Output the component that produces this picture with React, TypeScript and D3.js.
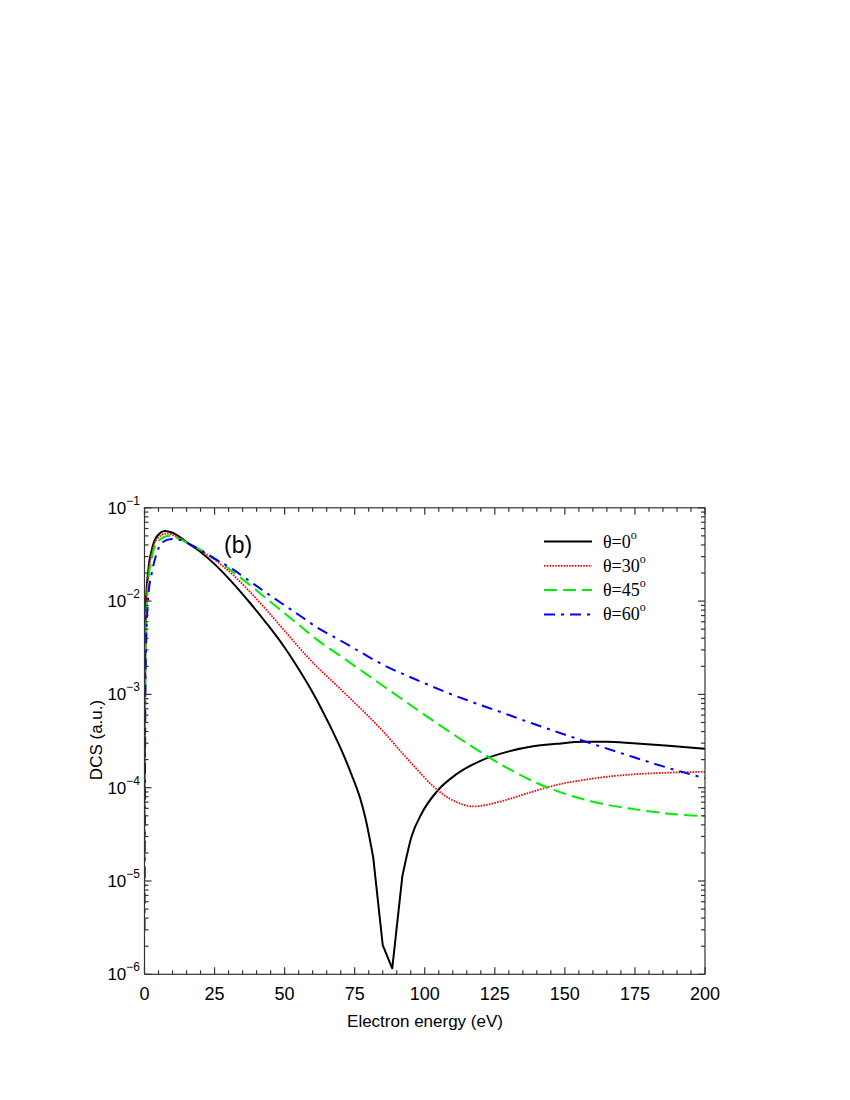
import React, { useRef, useEffect } from 'react';
import * as d3 from 'd3';

// electron energy (eV) and DCS (a.u.)
const energy0 = [0, 0.4, 1.36, 2.6, 4.35, 7.3, 10, 15.6, 19.8, 25, 31.7, 37.6, 43.6, 49.5, 55.5, 60, 65.6, 70.9, 74, 77, 78.7, 81.6, 85, 88.4, 92, 95.3, 98.9, 104.3, 111.4, 119.7, 130, 138.7, 147, 156.6, 165, 174.4, 187, 200];
const dcs0 = [1e-4, 0.008, 0.0216, 0.0354, 0.049, 0.0564, 0.054, 0.0416, 0.034, 0.0249, 0.0154, 0.0096, 0.00575, 0.00334, 0.00177, 0.00105, 5.0e-4, 2.29e-4, 1.35e-4, 7.6e-5, 4.9e-5, 1.8e-5, 2.06e-6, 1.16e-6, 1.12e-5, 3.0e-5, 5.3e-5, 9.1e-5, 1.4e-4, 1.93e-4, 2.45e-4, 2.78e-4, 2.95e-4, 3.1e-4, 3.1e-4, 2.99e-4, 2.82e-4, 2.62e-4];

const energy30 = [0, 0.4, 1.36, 2.6, 4.35, 7.9, 11, 15.6, 23.4, 31.7, 37.6, 43.6, 49.5, 55.5, 61.4, 67.4, 73, 79.3, 85.2, 91.2, 97, 103.1, 109, 113, 117.3, 121, 126.9, 138.7, 147, 156.6, 165, 174.4, 187, 200];
const dcs30 = [3e-5, 0.006, 0.019, 0.033, 0.046, 0.053, 0.05, 0.0416, 0.030, 0.019, 0.0126, 0.0080, 0.0050, 0.0031, 0.0020, 0.00135, 9.3e-4, 6.1e-4, 4.0e-4, 2.5e-4, 1.6e-4, 1.03e-4, 7.6e-5, 6.7e-5, 6.3e-5, 6.45e-5, 7.1e-5, 9.1e-5, 1.07e-4, 1.21e-4, 1.31e-4, 1.39e-4, 1.45e-4, 1.48e-4];

const energy45 = [0, 0.4, 1.36, 2.6, 4.35, 8.5, 12, 15.6, 23.4, 31.7, 37.6, 43.6, 50, 55.5, 61.4, 70, 79.3, 85.2, 91.2, 103.1, 115, 126.9, 138.7, 150.6, 162.5, 174.4, 186.3, 200];
const dcs45 = [1e-5, 0.004, 0.016, 0.029, 0.042, 0.050, 0.047, 0.0416, 0.031, 0.0204, 0.0149, 0.0106, 0.0074, 0.00543, 0.00389, 0.00257, 0.00164, 0.00123, 9.2e-4, 5.2e-4, 3.0e-4, 1.8e-4, 1.17e-4, 8.5e-5, 6.8e-5, 5.9e-5, 5.3e-5, 4.95e-5];

const energy60 = [0, 0.4, 1.36, 2.6, 4.35, 6.1, 9.7, 13, 15.6, 23.6, 31.7, 37.6, 43.6, 55.5, 61.4, 68.6, 77, 85.2, 96, 107.8, 115, 126.9, 138.7, 156.6, 174.4, 186.3, 200];
const dcs60 = [3e-6, 0.002, 0.0112, 0.020, 0.0325, 0.042, 0.0464, 0.045, 0.0416, 0.0301, 0.0217, 0.0163, 0.0122, 0.00697, 0.00527, 0.00398, 0.00285, 0.00207, 0.00148, 0.00105, 8.7e-4, 6.5e-4, 4.85e-4, 3.18e-4, 2.13e-4, 1.65e-4, 1.26e-4];

const seriesNames = ['0', '30', '45', '60'];
const xTickLabels = ['0', '25', '50', '75', '100', '125', '150', '175', '200'];
const yDecades = [-6, -5, -4, -3, -2, -1];

const App = () => {
    const svgRef = useRef(null);

    useEffect(() => {
        const svg = d3.select(svgRef.current);
        svg.selectAll("*").remove();

        const left = 144.5, right = 705, top = 507.8, bottom = 974.3;

        const x = d3.scaleLinear().domain([0, 200]).range([left, right]);
        const y = d3.scaleLog().domain([1e-6, 1e-1]).range([bottom, top]);

        // kinkRange: part of the curve drawn as straight segments (sampled minimum)
        const series = [
            { e: energy0, v: dcs0, color: "#000000", width: 2, dash: null, kinkRange: [81.6, 92] },
            { e: energy30, v: dcs30, color: "#ff0000", width: 1.8, dash: "1.6,1.2", kinkRange: null },
            { e: energy45, v: dcs45, color: "#00ee00", width: 2, dash: "13,6", kinkRange: null },
            { e: energy60, v: dcs60, color: "#0000ff", width: 2, dash: "11,6,3,6", kinkRange: null },
        ];

        svg.append("defs").append("clipPath").attr("id", "plotclip")
            .append("rect")
            .attr("x", left).attr("y", top)
            .attr("width", right - left).attr("height", bottom - top);

        const smooth = d3.line()
            .x(d => x(d[0]))
            .y(d => y(d[1]))
            .curve(d3.curveMonotoneX);
        const straight = d3.line()
            .x(d => x(d[0]))
            .y(d => y(d[1]));

        const lines = svg.append("g").attr("clip-path", "url(#plotclip)");
        series.forEach(s => {
            const pts = s.e.map((e, i) => [e, s.v[i]]);
            let d;
            if (s.kinkRange) {
                const [a, b] = s.kinkRange;
                d = smooth(pts.filter(p => p[0] <= a))
                    + straight(pts.filter(p => p[0] >= a && p[0] <= b)).replace(/^M/, "L")
                    + smooth(pts.filter(p => p[0] >= b)).replace(/^M/, "L");
            } else {
                d = smooth(pts);
            }
            lines.append("path")
                .attr("d", d)
                .attr("fill", "none")
                .attr("stroke", s.color)
                .attr("stroke-width", s.width)
                .attr("stroke-dasharray", s.dash)
                .attr("stroke-linejoin", "round");
        });

        // frame
        const axisColor = "#333";
        svg.append("rect")
            .attr("x", left).attr("y", top)
            .attr("width", right - left).attr("height", bottom - top)
            .attr("fill", "none")
            .attr("stroke", axisColor)
            .attr("stroke-width", 1.2);

        const ticks = svg.append("g").attr("stroke", axisColor).attr("stroke-width", 1.2);

        // x ticks, major every 25, minor every 5, on bottom and top
        d3.range(0, 201, 5).forEach(v => {
            const len = v % 25 === 0 ? 7 : 4;
            ticks.append("line").attr("x1", x(v)).attr("x2", x(v)).attr("y1", bottom).attr("y2", bottom - len);
            ticks.append("line").attr("x1", x(v)).attr("x2", x(v)).attr("y1", top).attr("y2", top + len);
        });

        // y ticks, log decades with minor ticks, on left and right
        yDecades.forEach(p => {
            const steps = p === -1 ? [1] : d3.range(1, 10);
            steps.forEach(m => {
                const v = m * Math.pow(10, p);
                const len = m === 1 ? 7 : 4;
                ticks.append("line").attr("x1", left).attr("x2", left + len).attr("y1", y(v)).attr("y2", y(v));
                ticks.append("line").attr("x1", right).attr("x2", right - len).attr("y1", y(v)).attr("y2", y(v));
            });
        });

        const sans = "'Liberation Sans', Arial, Helvetica, sans-serif";
        const serif = "'Liberation Serif', 'Times New Roman', serif";

        // x tick labels
        svg.append("g")
            .selectAll("text")
            .data(xTickLabels)
            .join("text")
            .attr("x", d => x(+d))
            .attr("y", 1000)
            .attr("text-anchor", "middle")
            .attr("font-family", sans)
            .attr("font-size", 18)
            .attr("fill", "#000")
            .text(d => d);

        // y tick labels 10^n
        yDecades.forEach(p => {
            const t = svg.append("text")
                .attr("x", 140)
                .attr("y", y(Math.pow(10, p)) + 6)
                .attr("text-anchor", "end")
                .attr("font-family", sans)
                .attr("fill", "#000");
            t.append("tspan").attr("font-size", 17).text("10");
            t.append("tspan").attr("font-size", 12).attr("dy", -9).text("\u2212" + Math.abs(p));
        });

        // axis titles
        svg.append("text")
            .attr("x", 425)
            .attr("y", 1027)
            .attr("text-anchor", "middle")
            .attr("font-family", sans)
            .attr("font-size", 17)
            .attr("fill", "#000")
            .text("Electron energy (eV)");

        svg.append("text")
            .attr("transform", "translate(102,740) rotate(-90)")
            .attr("text-anchor", "middle")
            .attr("font-family", sans)
            .attr("font-size", 17)
            .attr("fill", "#000")
            .text("DCS (a.u.)");

        // panel label
        svg.append("text")
            .attr("x", 224)
            .attr("y", 553)
            .attr("font-family", sans)
            .attr("font-size", 23)
            .attr("fill", "#000")
            .text("(b)");

        // legend
        const legend = svg.append("g");
        series.forEach((s, i) => {
            const ly = 541.5 + i * 24.3;
            legend.append("line")
                .attr("x1", 544).attr("x2", 592)
                .attr("y1", ly).attr("y2", ly)
                .attr("stroke", s.color)
                .attr("stroke-width", s.width)
                .attr("stroke-dasharray", s.dash);
            const t = legend.append("text")
                .attr("x", 603)
                .attr("y", ly + 6)
                .attr("font-family", serif)
                .attr("font-size", 18)
                .attr("fill", "#000");
            t.append("tspan").text("\u03b8=" + seriesNames[i]);
            t.append("tspan").attr("font-size", 12).attr("dy", -9).text("o");
        });
    }, []);

    return <svg ref={svgRef} width={850} height={1100} style={{ position: 'absolute', left: 0, top: 0 }}></svg>;
};

export default App;
